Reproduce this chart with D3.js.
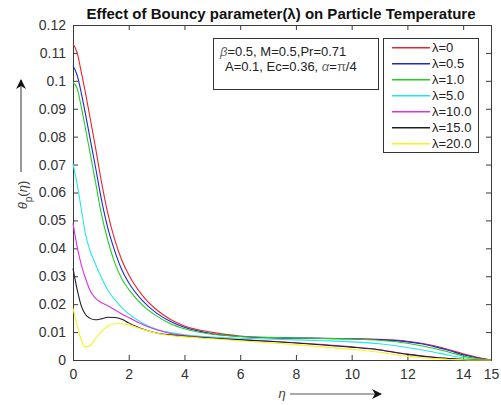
<!DOCTYPE html>
<html>
<head>
<meta charset="utf-8">
<script src="https://cdn.jsdelivr.net/npm/d3@7"></script>
<style>
  body { margin: 0; background: #fff; }
  text { font-family: "Liberation Sans", Arial, sans-serif; }
</style>
</head>
<body>
<div id="chart"></div>
<script>
// 数据：η 网格和各 λ 的曲线
const eta = [0, 0.15, 0.3, 0.45, 0.6, 0.8, 1.0, 1.25, 1.5, 1.75, 2.0, 2.5, 3.0, 3.5, 4.0, 5.0, 6.0, 7, 8, 9, 10, 11, 12, 12.5, 13, 13.5, 14, 14.5, 15];
const lambdaLabels = ['0', '0.5', '1.0', '5.0', '10.0', '15.0', '20.0'];
const lam0  = [0.1133, 0.1100, 0.1030, 0.0955, 0.0875, 0.0765, 0.0650, 0.0525, 0.0430, 0.0358, 0.0305, 0.0230, 0.0180, 0.0145, 0.0122, 0.0099, 0.0086, 0.0080, 0.0078, 0.0077, 0.0076, 0.0074, 0.0067, 0.0060, 0.0050, 0.0037, 0.0022, 0.0010, 0];
const lam05 = [0.1054, 0.1020, 0.0955, 0.0880, 0.0800, 0.0695, 0.0585, 0.0472, 0.0390, 0.0323, 0.0277, 0.0212, 0.0168, 0.0138, 0.0117, 0.0094, 0.0084, 0.0080, 0.0079, 0.0078, 0.0076, 0.0073, 0.0065, 0.0058, 0.0047, 0.0034, 0.0019, 0.0008, 0];
const lam1  = [0.0994, 0.0972, 0.0905, 0.0828, 0.0748, 0.0642, 0.0532, 0.0428, 0.0348, 0.0291, 0.0253, 0.0196, 0.0158, 0.0130, 0.0112, 0.0092, 0.0084, 0.0081, 0.0079, 0.0077, 0.0075, 0.0071, 0.0060, 0.0051, 0.0040, 0.0028, 0.0014, 0.0005, 0];
const lam5  = [0.0703, 0.0630, 0.0540, 0.0450, 0.0395, 0.0345, 0.0300, 0.0250, 0.0216, 0.0188, 0.0165, 0.0132, 0.0110, 0.0098, 0.0090, 0.0082, 0.0078, 0.0075, 0.0072, 0.0069, 0.0065, 0.0058, 0.0045, 0.0037, 0.0027, 0.0017, 0.0008, 0.0002, 0];
const lam10 = [0.0490, 0.0405, 0.0340, 0.0292, 0.0252, 0.0222, 0.0207, 0.0194, 0.0180, 0.0165, 0.0152, 0.0127, 0.0108, 0.0095, 0.0088, 0.0079, 0.0073, 0.0068, 0.0062, 0.0055, 0.0047, 0.0037, 0.0021, 0.0015, 0.0010, 0.0005, 0.0002, 0.0001, 0];
const lam15 = [0.0328, 0.0252, 0.0193, 0.0163, 0.0150, 0.0144, 0.0147, 0.0153, 0.0152, 0.0146, 0.0133, 0.0111, 0.0097, 0.0090, 0.0085, 0.0078, 0.0072, 0.0067, 0.0061, 0.0054, 0.0046, 0.0036, 0.0020, 0.0014, 0.0009, 0.0005, 0.0002, 0.0001, 0];
const lam20 = [0.0185, 0.0125, 0.0070, 0.0047, 0.0050, 0.0077, 0.0100, 0.0121, 0.0130, 0.0130, 0.0125, 0.0110, 0.0096, 0.0088, 0.0083, 0.0076, 0.0069, 0.0062, 0.0055, 0.0047, 0.0038, 0.0028, 0.0013, 0.0008, 0.0005, 0.0002, 0.0001, 0, 0];
const xTicks = [0, 2, 4, 6, 8, 10, 12, 14, 15];
const yTicks = [0, 0.01, 0.02, 0.03, 0.04, 0.05, 0.06, 0.07, 0.08, 0.09, 0.1, 0.11, 0.12];

const seriesValues = [lam0, lam05, lam1, lam5, lam10, lam15, lam20];
const colors = ['#e8262b', '#2424d8', '#1fd01f', '#25e6e6', '#e02ee0', '#202020', '#f5f51a'];

const width = 501, height = 405;
const margin = { top: 25, right: 10, bottom: 45, left: 73 };
const w = width - margin.left - margin.right;
const h = height - margin.top - margin.bottom;

const svg = d3.select('#chart').append('svg')
  .attr('width', width)
  .attr('height', height);

const x = d3.scaleLinear().domain([0, 15]).range([0, w]);
const y = d3.scaleLinear().domain([0, 0.12]).range([h, 0]);

const g = svg.append('g').attr('transform', `translate(${margin.left},${margin.top})`);

// 坐标轴 (MATLAB 风格，刻度朝内)
const axisColor = '#3a3a3a';
const fmtY = d => d === 0 ? '0' : d3.format('.2~f')(d);
const xAxis = g.append('g').attr('transform', `translate(0,${h})`)
  .call(d3.axisBottom(x).tickValues(xTicks).tickSize(-5).tickPadding(9).tickFormat(d3.format('d')));
const yAxis = g.append('g')
  .call(d3.axisLeft(y).tickValues(yTicks).tickSize(-5).tickPadding(7).tickFormat(fmtY));
const xTop = g.append('g')
  .call(d3.axisTop(x).tickValues(xTicks).tickSize(-5).tickFormat(''));
const yRight = g.append('g').attr('transform', `translate(${w},0)`)
  .call(d3.axisRight(y).tickValues(yTicks).tickSize(-5).tickFormat(''));

[xAxis, yAxis, xTop, yRight].forEach(a => {
  a.select('.domain').attr('stroke', axisColor);
  a.selectAll('.tick line').attr('stroke', axisColor);
  a.selectAll('.tick text').attr('fill', '#333').style('font-size', '14px');
});

// 曲线
const line = d3.line()
  .x((d, i) => x(eta[i]))
  .y(d => y(d))
  .curve(d3.curveMonotoneX);

g.selectAll('path.curve')
  .data(seriesValues)
  .enter()
  .append('path')
  .attr('class', 'curve')
  .attr('d', line)
  .attr('fill', 'none')
  .attr('stroke', (d, i) => colors[i])
  .attr('stroke-width', 1.1);

// 标题
svg.append('text')
  .attr('x', margin.left + w / 2 - 1)
  .attr('y', 19)
  .attr('text-anchor', 'middle')
  .style('font-size', '15px')
  .style('font-weight', 'bold')
  .attr('fill', '#111')
  .text('Effect of Bouncy parameter(λ) on Particle Temperature');

// 参数框
svg.append('rect')
  .attr('x', 213.5).attr('y', 38.5).attr('width', 165).attr('height', 51)
  .attr('fill', '#fff').attr('stroke', '#333');
const p1 = svg.append('text').attr('x', 220).attr('y', 56).style('font-size', '13px').attr('fill', '#222');
p1.append('tspan').style('font-style', 'italic').attr('fill', '#666').text('β');
p1.append('tspan').text('=0.5, M=0.5,Pr=0.71');
const p2 = svg.append('text').attr('x', 225).attr('y', 71).style('font-size', '13px').attr('fill', '#222');
p2.append('tspan').text('A=0.1, Ec=0.36, ');
p2.append('tspan').style('font-style', 'italic').attr('fill', '#666').text('α');
p2.append('tspan').text('=');
p2.append('tspan').attr('fill', '#666').text('π');
p2.append('tspan').text('/4');

// 图例
const legendData = lambdaLabels.map((l, i) => ({ label: 'λ=' + l, color: colors[i], row: i }));
svg.append('rect')
  .attr('x', 383.5).attr('y', 38.5).attr('width', 95).attr('height', 114)
  .attr('fill', '#fff').attr('stroke', '#333');
const leg = svg.append('g').selectAll('g')
  .data(legendData)
  .enter()
  .append('g')
  .attr('transform', d => `translate(0,${47 + d.row * 16})`);
leg.append('rect')
  .attr('x', 392).attr('y', 0).attr('width', 38).attr('height', 1.5)
  .attr('fill', d => d.color);
leg.append('text')
  .attr('x', 432).attr('y', 5)
  .style('font-size', '13px').attr('fill', '#222')
  .text(d => d.label);

// y 轴标签和箭头
const defs = svg.append('defs');
defs.append('marker')
  .attr('id', 'arrow')
  .attr('viewBox', '0 0 10 10')
  .attr('refX', 9).attr('refY', 5)
  .attr('markerWidth', 14).attr('markerHeight', 10)
  .attr('markerUnits', 'userSpaceOnUse')
  .attr('orient', 'auto')
  .append('path')
  .attr('d', 'M0,0 L10,5 L0,10 L3,5 Z')
  .attr('fill', '#111');

svg.append('line')
  .attr('x1', 21).attr('y1', 172).attr('x2', 21).attr('y2', 80)
  .attr('stroke', '#555').attr('stroke-width', 1.2)
  .attr('marker-end', 'url(#arrow)');
const yl = svg.append('text')
  .attr('transform', 'translate(27,195) rotate(-90)')
  .attr('text-anchor', 'middle')
  .style('font-size', '13px').attr('fill', '#444');
yl.append('tspan').style('font-style', 'italic').text('θ');
yl.append('tspan').attr('dy', 5).style('font-size', '10px').text('p');
yl.append('tspan').attr('dy', -5).text('(');
yl.append('tspan').style('font-style', 'italic').text('η');
yl.append('tspan').text(')');

// x 轴标签和箭头
svg.append('text')
  .attr('x', 282).attr('y', 398)
  .attr('text-anchor', 'middle')
  .style('font-size', '13px').style('font-style', 'italic').attr('fill', '#444')
  .text('η');
svg.append('line')
  .attr('x1', 290).attr('y1', 394).attr('x2', 381).attr('y2', 394)
  .attr('stroke', '#555').attr('stroke-width', 1.2)
  .attr('marker-end', 'url(#arrow)');
</script>
</body>
</html>
